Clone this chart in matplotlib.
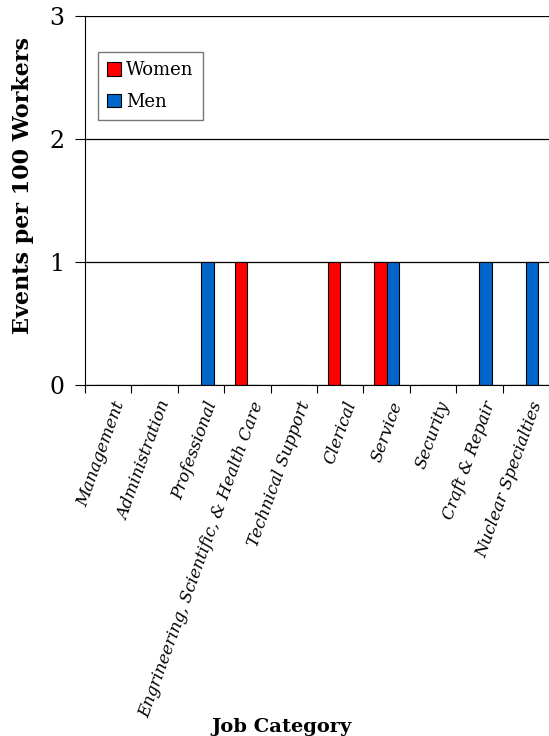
import numpy as np
import matplotlib
matplotlib.use("Agg")
import matplotlib.pyplot as plt

categories = ["Management", "Administration", "Professional",
              "Engrineering, Scientific, & Health Care", "Technical Support",
              "Clerical", "Service", "Security", "Craft & Repair",
              "Nuclear Specialties"]
women = [0, 0, 0, 1, 0, 1, 1, 0, 0, 0]
men = [0, 0, 1, 0, 0, 0, 1, 0, 1, 1]

plt.rcParams['font.family'] = ['DejaVu Serif']

fig = plt.figure(figsize=(5.49, 7.36), dpi=100)
ax = fig.add_axes([85/549, 1 - 385/736, 464/549, 369/736])

x = np.arange(len(categories))
w = 0.27
ax.bar(x - w/2, women, w, color='#ff0000', edgecolor='black', linewidth=0.8, label='Women')
ax.bar(x + w/2, men, w, color='#0066cc', edgecolor='black', linewidth=0.8, label='Men')

ax.set_xlim(-0.5, len(categories) - 0.5)
ax.set_ylim(0, 3)
ax.set_yticks([0, 1, 2, 3])
ax.yaxis.grid(True, color='black', linewidth=0.9)
ax.set_axisbelow(True)
ax.set_xticks(np.arange(len(categories) + 1) - 0.5, minor=False)
ax.set_xticklabels([])
ax.set_xticks(x + 0.08, minor=True)
ax.set_xticklabels(categories, minor=True, rotation=70, ha='right',
                   rotation_mode='anchor', fontsize=12, style='italic')
ax.tick_params(axis='x', which='minor', length=0, pad=10)
ax.tick_params(axis='x', which='major', length=6, direction='out')
ax.tick_params(axis='y', length=7, direction='out', labelsize=17, pad=8)
for s in ['top', 'right']:
    ax.spines[s].set_visible(False)

fig.text(23/549, 1 - 185/736, 'Events per 100 Workers', fontsize=16,
         fontweight='bold', rotation=90, ha='center', va='center')
fig.text(282/549, 1 - 727/736, 'Job Category', fontsize=14, fontweight='bold',
         ha='center', va='center')

leg = ax.legend(loc='upper left', bbox_to_anchor=(0.028, 0.902), fontsize=13,
                frameon=True, fancybox=False, handlelength=0.8, handleheight=0.8,
                handletextpad=0.25, borderpad=0.5, labelspacing=0.75,
                borderaxespad=0)
leg.get_frame().set_edgecolor('#555555')
leg.get_frame().set_linewidth(1.0)

fig.savefig('out.png', dpi=100)
